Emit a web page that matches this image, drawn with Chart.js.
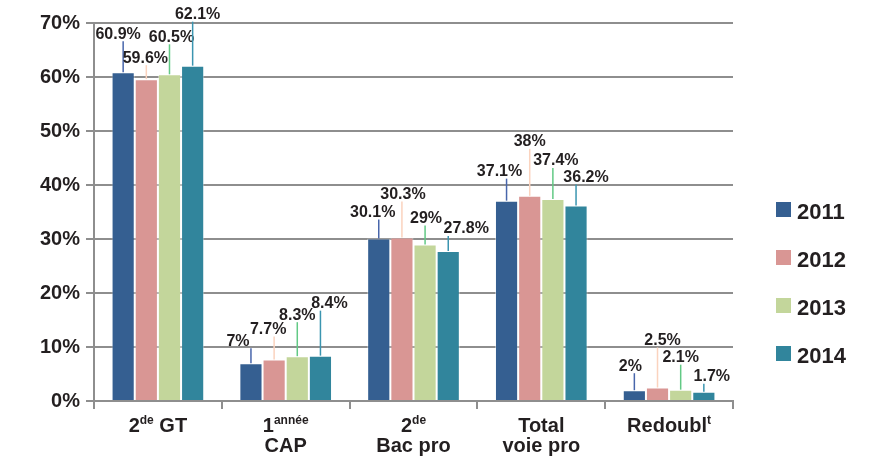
<!DOCTYPE html>
<html>
<head>
<meta charset="utf-8">
<script src="https://cdn.jsdelivr.net/npm/chart.js@4"></script>
<style>
  html, body { margin: 0; padding: 0; background: #fff; }
  #wrap { width: 888px; height: 456px; }
</style>
</head>
<body>
<div id="wrap"><canvas id="myChart"></canvas></div>
<script>
// catégories ('^' = exposant jusqu'à l'espace suivant)
const categories = [['2^de GT'], ['1^année', 'CAP'], ['2^de', 'Bac pro'], ['Total', 'voie pro'], ['Redoubl^t']];
const years = ['2011', '2012', '2013', '2014'];
const values2011 = [60.9, 7, 30.1, 37.1, 2];
const values2012 = [59.6, 7.7, 30.3, 38, 2.5];
const values2013 = [60.5, 8.3, 29, 37.4, 2.1];
const values2014 = [62.1, 8.4, 27.8, 36.2, 1.7];
const yMax = 70;
const yStep = 10;

const TEXT = '#231f20';
const GRID = '#8e8e8e';
const FONT = "'Liberation Sans', Arial, sans-serif";

// style des étiquettes : couleur du trait, décalage au-dessus de la barre, décalage horizontal
const labelStyle = [
  { line: '#4866ab', lift: [38, 22, 26, 29, 24], shift: [-5, -13, -6, -7, -4] },
  { line: '#fbd3be', lift: [21, 30, 43, 54, 47], shift: [-1, -6, 1, 0, 5] },
  { line: '#62c985', lift: [37, 41, 26, 38, 32], shift: [2, 0, 1, 3, 0] },
  { line: '#3b95b0', lift: [51, 52, 22, 28, 15], shift: [5, 9, 18, 10, 8] }
];

function segments(line) {
  const out = [];
  const re = /\^(\S+)/g;
  let last = 0, m;
  while ((m = re.exec(line))) {
    if (m.index > last) out.push({ text: line.slice(last, m.index), sup: false });
    out.push({ text: m[1], sup: true });
    last = re.lastIndex;
  }
  if (last < line.length) out.push({ text: line.slice(last), sup: false });
  return out;
}

const decorPlugin = {
  id: 'decor',
  afterDatasetsDraw(chart) {
    const ctx = chart.ctx;
    ctx.save();
    ctx.font = 'bold 16px ' + FONT;
    ctx.textAlign = 'center';
    ctx.textBaseline = 'middle';
    chart.data.datasets.forEach((ds, di) => {
      const meta = chart.getDatasetMeta(di);
      const st = labelStyle[di];
      meta.data.forEach((bar, i) => {
        const ly = bar.y - st.lift[i];
        ctx.strokeStyle = st.line;
        ctx.lineWidth = 1.5;
        ctx.beginPath();
        ctx.moveTo(bar.x, bar.y);
        ctx.lineTo(bar.x, ly + 7);
        ctx.stroke();
        ctx.fillStyle = TEXT;
        ctx.fillText(ds.data[i] + '%', bar.x + st.shift[i], ly);
      });
    });
    ctx.restore();
  },
  afterDraw(chart) {
    const ctx = chart.ctx;
    const area = chart.chartArea;
    const xs = chart.scales.x;
    ctx.save();
    ctx.fillStyle = TEXT;
    ctx.textBaseline = 'middle';
    ctx.textAlign = 'left';
    // libellés des catégories avec exposants
    categories.forEach((lines, i) => {
      const cx = xs.getPixelForValue(i);
      lines.forEach((line, li) => {
        const y = area.bottom + 25 + li * 20;
        const segs = segments(line);
        let total = 0;
        segs.forEach(s => {
          ctx.font = (s.sup ? 'bold 12px ' : 'bold 20px ') + FONT;
          s.w = ctx.measureText(s.text).width;
          total += s.w;
        });
        let x = cx - total / 2;
        segs.forEach(s => {
          ctx.font = (s.sup ? 'bold 12px ' : 'bold 20px ') + FONT;
          ctx.fillText(s.text, x, s.sup ? y - 5 : y);
          x += s.w;
        });
      });
    });
    // légende
    ctx.font = 'bold 22px ' + FONT;
    chart.data.datasets.forEach((ds, di) => {
      const y = 213 + di * 48;
      ctx.fillStyle = ds.backgroundColor;
      ctx.fillRect(area.right + 43, y - 11, 15, 15);
      ctx.fillStyle = TEXT;
      ctx.fillText(ds.label, area.right + 64, y);
    });
    ctx.restore();
  }
};

const barColors = ['#355f91', '#d99694', '#c3d69b', '#31859c'];
const series = [values2011, values2012, values2013, values2014];

new Chart(document.getElementById('myChart'), {
  type: 'bar',
  data: {
    labels: categories.map(l => l.join(' ').replace(/\^/g, '')),
    datasets: years.map((y, i) => ({
      label: y,
      data: series[i],
      backgroundColor: barColors[i],
      borderColor: 'rgba(255,255,255,0.45)',
      borderWidth: 1,
      categoryPercentage: 0.725,
      barPercentage: 1
    }))
  },
  options: {
    responsive: true,
    maintainAspectRatio: false,
    animation: false,
    layout: { padding: { top: 23, right: 155, left: 0, bottom: 0 } },
    plugins: { legend: { display: false }, tooltip: { enabled: false } },
    scales: {
      x: {
        grid: { offset: true, drawOnChartArea: false, drawTicks: true, tickLength: 8, color: GRID, lineWidth: 2 },
        border: { color: GRID, width: 2 },
        ticks: { display: false },
        afterFit: s => { s.height = 55; }
      },
      y: {
        min: 0,
        max: yMax,
        ticks: {
          stepSize: yStep,
          padding: 6,
          color: TEXT,
          font: { family: FONT, size: 20, weight: 'bold' },
          callback: v => v + '%'
        },
        grid: { color: GRID, lineWidth: 2, tickLength: 8 },
        border: { color: GRID, width: 2 },
        afterFit: s => { s.width = 94; }
      }
    }
  },
  plugins: [decorPlugin]
});
</script>
</body>
</html>
